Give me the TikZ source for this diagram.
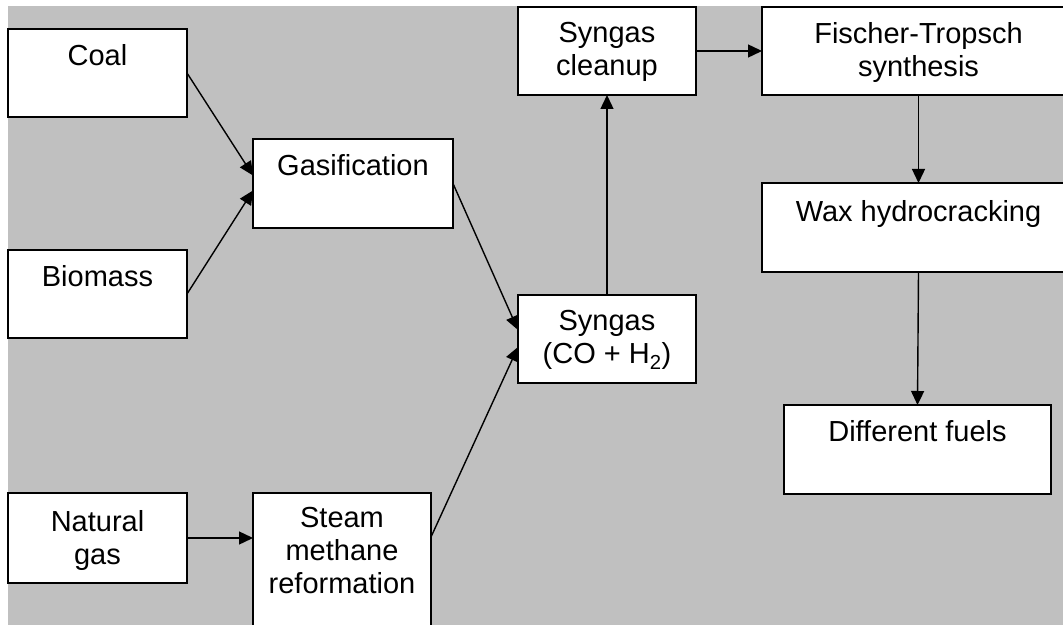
\documentclass[tikz,border=0pt]{standalone}
\usepackage{fontspec}
\setmainfont{Liberation Sans}
\usetikzlibrary{arrows.meta,calc}
\definecolor{bggray}{RGB}{192,192,192}
\begin{document}
\begin{tikzpicture}[x=1bp,y=-1bp,
  box/.style={draw=black,fill=white,line width=1.6bp,inner sep=0pt,outer sep=0pt,rectangle},
  txt/.style={font=\fontsize{29bp}{33bp}\selectfont,align=center,inner sep=0pt,anchor=north},
  arr/.style={line width=1.4bp,-{Triangle[length=14bp,width=13bp]}}]
\clip (0,0) rectangle (1063,625);
\fill[bggray] (8,6) rectangle (1063,625);
% boxes
\node[box,minimum width=179bp,minimum height=88bp] (coal) at (97.5,73) {};
\node[box,minimum width=179bp,minimum height=88bp] (biomass) at (97.5,294) {};
\node[box,minimum width=179bp,minimum height=90bp] (natgas) at (97.5,538) {};
\node[box,minimum width=200bp,minimum height=89bp] (gasif) at (353,183.5) {};
\node[box,minimum width=178bp,minimum height=167bp] (steam) at (342,576.5) {};
\node[box,minimum width=178bp,minimum height=88bp] (syngas) at (607,339) {};
\node[box,minimum width=178bp,minimum height=88bp] (cleanup) at (607,51) {};
\node[box,minimum width=313bp,minimum height=88bp] (ft) at (918.5,51) {};
\node[box,minimum width=313bp,minimum height=89bp] (wax) at (918.5,227.5) {};
\node[box,minimum width=267bp,minimum height=89bp] (fuels) at (917.5,449.5) {};
% texts
\node[txt] (coalT) at ([yshift=-15bp]coal.north) {Coal};
\node[txt] (biomassT) at ([yshift=-15bp]biomass.north) {Biomass};
\node[txt] (natgasT) at ([yshift=-17bp]natgas.north) {Natural\\gas};
\node[txt] (gasifT) at ([yshift=-15bp]gasif.north) {Gasification};
\node[txt] (steamT) at ([yshift=-14bp]steam.north) {Steam\\methane\\reformation};
\node[txt] (syngasT) at ([yshift=-15bp]syngas.north) {Syngas\\(CO + H\textsubscript{2})};
\node[txt] (cleanupT) at ([yshift=-15bp]cleanup.north) {Syngas\\cleanup};
\node[txt] (ftT) at ([yshift=-15bp]ft.north) {Fischer-Tropsch\\synthesis};
\node[txt] (waxT) at ([yshift=-17bp]wax.north) {Wax hydrocracking};
\node[txt] (fuelsT) at ([yshift=-15bp]fuels.north) {Different fuels};
% connectors
\coordinate (steamout) at ([yshift=-44bp]steam.north east);
\draw[arr] (coal.east) -- ([yshift=8bp]gasif.west);
\draw[arr] (biomass.east) -- ([yshift=-7bp]gasif.west);
\draw[arr] (gasif.east) -- ([yshift=9bp]syngas.west);
\draw[arr] (steamout) -- ([yshift=-8bp]syngas.west);
\draw[arr] (natgas.east) -- (natgas.east -| steam.west);
\draw[arr] (syngas.north) -- (cleanup.south);
\draw[arr] (cleanup.east) -- (ft.west);
\draw[arr] (ft.south) -- (wax.north);
\draw[arr] (wax.south) -- (fuels.north);
\end{tikzpicture}
\end{document}
